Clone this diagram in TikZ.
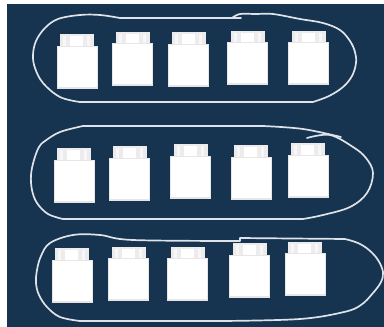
\documentclass[tikz,border=0pt]{standalone}
\definecolor{bgblue}{HTML}{16334F}
\definecolor{capgrey}{HTML}{EDEBEB}
\definecolor{rimgrey}{HTML}{E8E5E6}
\definecolor{loopwhite}{HTML}{DDE3E8}
\tikzset{
  loopline/.style={draw=loopwhite,line width=1.7pt,line cap=round,line join=round},
}
% #1 body left, #2 body top, #3 cap left, #4 cap top
\newcommand{\bottlepic}[4]{%
  \fill[capgrey] (#3,#4) rectangle ++(34,12.5);
  \fill[white!60!capgrey] (#3+3,#4+2) rectangle ++(3,10);
  \fill[white] (#3+10,#4+2) rectangle ++(13,10);
  \fill[white!60!capgrey] (#3+27,#4+2) rectangle ++(3,10);
  \fill[rimgrey] (#1,#2) rectangle ++(41,43);
  \fill[white] (#1+1,#2+0.5) rectangle ++(39.2,40.5);
}
\begin{document}
\begin{tikzpicture}[x=1pt,y=-1pt]
\useasboundingbox (0,0) rectangle (384,327);
\fill[white] (0,0) rectangle (384,327);
\fill[bgblue] (7,4) rectangle (384,327);
% row 1
\bottlepic{57}{46}{60}{34}
\bottlepic{112}{43}{116}{32}
\bottlepic{168}{44}{172}{32}
\bottlepic{227}{42}{231}{31}
\bottlepic{288}{42}{292}{31}
% row 2
\bottlepic{54}{160}{57}{148}
\bottlepic{109}{158}{113}{146}
\bottlepic{170}{156}{174}{144}
\bottlepic{231}{157}{234}{145}
\bottlepic{288}{155}{291}{143}
% row 3
\bottlepic{52}{260}{55}{248}
\bottlepic{108}{258}{112}{247}
\bottlepic{167}{258}{171}{247}
\bottlepic{229}{255}{233}{243}
\bottlepic{285}{253}{288}{242}
% loops
\draw[loopline] plot[smooth,tension=0.6] coordinates {(232,18) (240,14) (256,14) (273,14) (300,19) (323,23) (340,30) (350,41) (355,52) (356,63) (352,76) (343,87) (329,96) (313,102)}
  -- (80,102) plot[smooth,tension=0.6] coordinates {(80,102) (60,97) (43,83) (35,68) (33,55) (36,41) (45,28) (58,19) (80,15) (100,15) (120,18)} -- (241,18);
\draw[loopline] (83,126) -- (263,126) plot[smooth,tension=0.6] coordinates {(263,126) (303,129) (341,137)};
\draw[loopline] plot[smooth,tension=0.6] coordinates {(307,138) (330,135) (353,147) (366,158) (373,173) (367,193) (350,207) (323,215) (303,219)}
  -- (63,219) plot[smooth,tension=0.6] coordinates {(63,219) (48,214) (37,203) (32,190) (31,175) (34,160) (39,147) (45,141) (60,132) (83,126)};
\draw[loopline] plot[smooth,tension=0.6] coordinates {(240,241) (133,240) (100,235) (73,235) (50,243) (41,256) (37,270) (36,283) (39,295) (47,307) (60,317) (80,321)}
  -- (223,321) plot[smooth,tension=0.6] coordinates {(223,321) (300,319) (344,312) (361,305) (373,293) (381,282) (383,272) (378,260) (369,250) (358,243) (345,239)} -- (240,238) -- (240,241);
\end{tikzpicture}
\end{document}
